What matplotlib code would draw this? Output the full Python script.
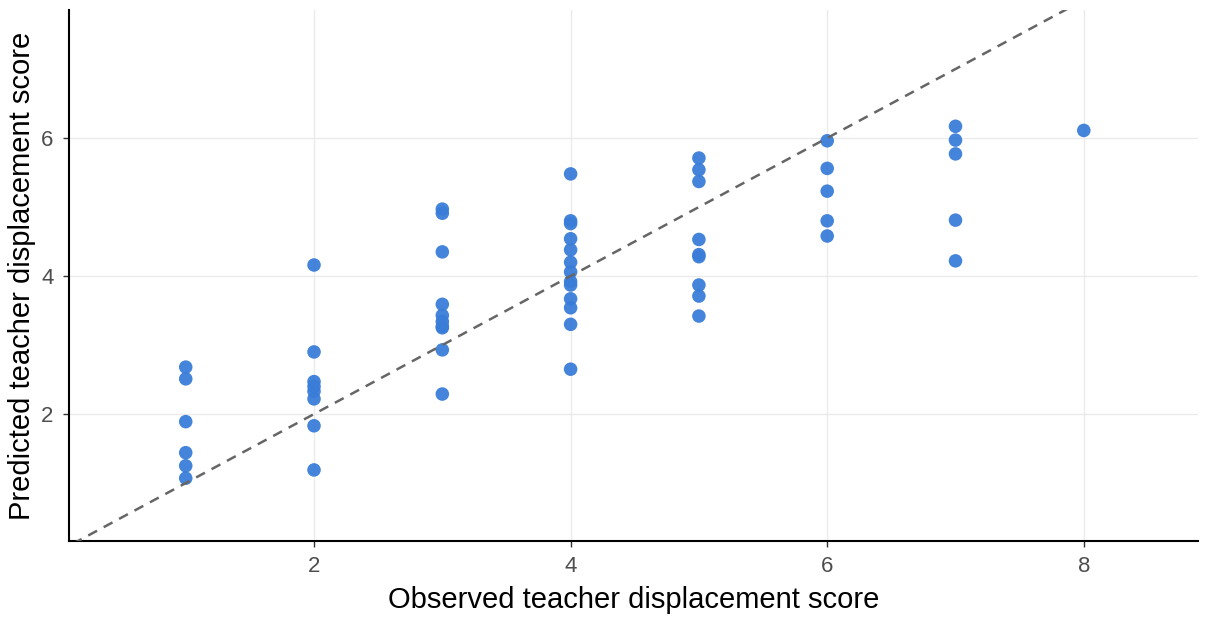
import numpy as np
import matplotlib.pyplot as plt

plt.rcParams['font.family'] = ['Liberation Sans', 'DejaVu Sans']

# observed score groups and the predicted scores read for each
obs_1 = [2.68, 2.51, 1.89, 1.44, 1.25, 1.07]
obs_2 = [4.16, 2.90, 2.47, 2.40, 2.33, 2.22, 1.83, 1.19]
obs_3 = [4.97, 4.91, 4.35, 3.59, 3.43, 3.34, 3.27, 3.25, 2.93, 2.29]
obs_4 = [5.48, 4.80, 4.76, 4.54, 4.38, 4.20, 4.06, 3.92, 3.87, 3.67, 3.54, 3.30, 2.65]
obs_5 = [5.71, 5.54, 5.37, 4.53, 4.31, 4.28, 3.87, 3.71, 3.42]
obs_6 = [5.96, 5.56, 5.23, 4.80, 4.58]
obs_7 = [6.17, 5.97, 5.77, 4.81, 4.22]
obs_8 = [6.11]

groups = [obs_1, obs_2, obs_3, obs_4, obs_5, obs_6, obs_7, obs_8]
observed = []
predicted = []
for i, g in enumerate(groups):
    observed += [i + 1] * len(g)
    predicted += g

fig = plt.figure(figsize=(12.08, 6.22), dpi=100)
ax = fig.add_axes([0.0571, 0.1302, 0.9346, 0.8537])

ax.set_xlim(0.09, 8.89)
ax.set_ylim(0.16, 7.855)

ax.set_xticks([2, 4, 6, 8])
ax.set_yticks([2, 4, 6])
ax.grid(True, color='#EBEBEB', linewidth=1.0)
ax.set_axisbelow(True)

ax.scatter(observed, predicted, s=95, color='#3A7DD8', edgecolors='none', alpha=0.95, zorder=3)

xs = np.array([0, 9])
ax.plot(xs, xs, linestyle=(0, (4, 3)), color='#666666', linewidth=1.8, zorder=4)

for side in ['top', 'right']:
    ax.spines[side].set_visible(False)
for side in ['left', 'bottom']:
    ax.spines[side].set_linewidth(1.5)
    ax.spines[side].set_color('black')

ax.tick_params(axis='both', colors='#333333', labelcolor='#4D4D4D', labelsize=16, length=4, width=1.0, pad=7)

ax.set_xlabel('Observed teacher displacement score', fontsize=21, color='black', labelpad=6)
ax.set_ylabel('Predicted teacher displacement score', fontsize=21, color='black', labelpad=4)

fig.savefig('out.png', dpi=100)
